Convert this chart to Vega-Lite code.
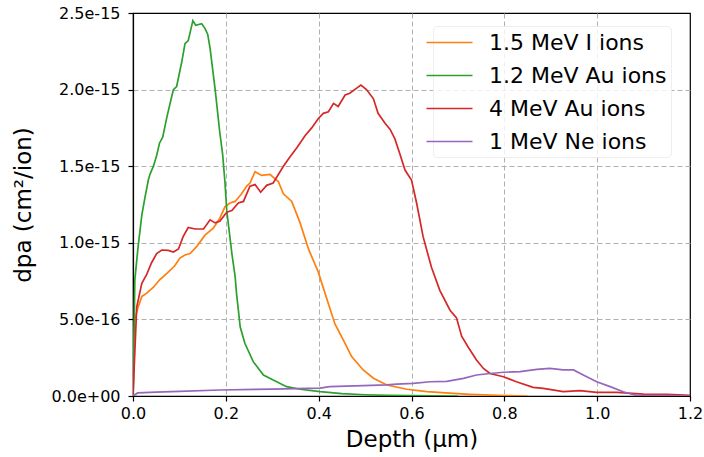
{
  "$schema": "https://vega.github.io/schema/vega-lite/v6.json",
  "width": 557,
  "height": 383,
  "autosize": {"type": "none"},
  "padding": {"left": 133, "top": 13, "right": 14, "bottom": 61},
  "background": "white",
  "config": {
    "font": "DejaVu Sans",
    "view": {"stroke": "black", "strokeWidth": 1.2},
    "axis": {
      "domainColor": "black", "domainWidth": 1.2,
      "tickColor": "black", "tickSize": 5, "tickWidth": 1.2,
      "labelFont": "DejaVu Sans", "labelFontSize": 16, "labelColor": "black",
      "titleFont": "DejaVu Sans", "titleFontSize": 23, "titleFontWeight": "normal", "titleColor": "black",
      "grid": true, "gridColor": "#b0b0b0", "gridDash": [5, 3], "gridWidth": 1
    }
  },
  "data": {"values": [
    {"ion":"1.5 MeV I ions","depth":0,"dpa":0},
    {"ion":"1.5 MeV I ions","depth":0.004,"dpa":0.50e-15},
    {"ion":"1.5 MeV I ions","depth":0.011,"dpa":0.58e-15},
    {"ion":"1.5 MeV I ions","depth":0.019,"dpa":0.65e-15},
    {"ion":"1.5 MeV I ions","depth":0.029,"dpa":0.67e-15},
    {"ion":"1.5 MeV I ions","depth":0.044,"dpa":0.71e-15},
    {"ion":"1.5 MeV I ions","depth":0.058,"dpa":0.76e-15},
    {"ion":"1.5 MeV I ions","depth":0.073,"dpa":0.80e-15},
    {"ion":"1.5 MeV I ions","depth":0.090,"dpa":0.85e-15},
    {"ion":"1.5 MeV I ions","depth":0.101,"dpa":0.90e-15},
    {"ion":"1.5 MeV I ions","depth":0.112,"dpa":0.92e-15},
    {"ion":"1.5 MeV I ions","depth":0.123,"dpa":0.93e-15},
    {"ion":"1.5 MeV I ions","depth":0.137,"dpa":0.975e-15},
    {"ion":"1.5 MeV I ions","depth":0.155,"dpa":1.05e-15},
    {"ion":"1.5 MeV I ions","depth":0.173,"dpa":1.095e-15},
    {"ion":"1.5 MeV I ions","depth":0.187,"dpa":1.16e-15},
    {"ion":"1.5 MeV I ions","depth":0.198,"dpa":1.235e-15},
    {"ion":"1.5 MeV I ions","depth":0.209,"dpa":1.26e-15},
    {"ion":"1.5 MeV I ions","depth":0.220,"dpa":1.27e-15},
    {"ion":"1.5 MeV I ions","depth":0.234,"dpa":1.32e-15},
    {"ion":"1.5 MeV I ions","depth":0.245,"dpa":1.37e-15},
    {"ion":"1.5 MeV I ions","depth":0.252,"dpa":1.39e-15},
    {"ion":"1.5 MeV I ions","depth":0.263,"dpa":1.464e-15},
    {"ion":"1.5 MeV I ions","depth":0.277,"dpa":1.44e-15},
    {"ion":"1.5 MeV I ions","depth":0.295,"dpa":1.447e-15},
    {"ion":"1.5 MeV I ions","depth":0.313,"dpa":1.40e-15},
    {"ion":"1.5 MeV I ions","depth":0.324,"dpa":1.32e-15},
    {"ion":"1.5 MeV I ions","depth":0.342,"dpa":1.27e-15},
    {"ion":"1.5 MeV I ions","depth":0.360,"dpa":1.13e-15},
    {"ion":"1.5 MeV I ions","depth":0.378,"dpa":0.96e-15},
    {"ion":"1.5 MeV I ions","depth":0.399,"dpa":0.81e-15},
    {"ion":"1.5 MeV I ions","depth":0.417,"dpa":0.64e-15},
    {"ion":"1.5 MeV I ions","depth":0.435,"dpa":0.47e-15},
    {"ion":"1.5 MeV I ions","depth":0.453,"dpa":0.366e-15},
    {"ion":"1.5 MeV I ions","depth":0.471,"dpa":0.257e-15},
    {"ion":"1.5 MeV I ions","depth":0.496,"dpa":0.17e-15},
    {"ion":"1.5 MeV I ions","depth":0.518,"dpa":0.116e-15},
    {"ion":"1.5 MeV I ions","depth":0.547,"dpa":0.072e-15},
    {"ion":"1.5 MeV I ions","depth":0.590,"dpa":0.044e-15},
    {"ion":"1.5 MeV I ions","depth":0.633,"dpa":0.028e-15},
    {"ion":"1.5 MeV I ions","depth":0.690,"dpa":0.017e-15},
    {"ion":"1.5 MeV I ions","depth":0.726,"dpa":0.011e-15},
    {"ion":"1.5 MeV I ions","depth":0.800,"dpa":0.003e-15},
    {"ion":"1.5 MeV I ions","depth":0.850,"dpa":0},
    {"ion":"1.2 MeV Au ions","depth":0,"dpa":0},
    {"ion":"1.2 MeV Au ions","depth":0.004,"dpa":0.76e-15},
    {"ion":"1.2 MeV Au ions","depth":0.011,"dpa":0.975e-15},
    {"ion":"1.2 MeV Au ions","depth":0.019,"dpa":1.18e-15},
    {"ion":"1.2 MeV Au ions","depth":0.026,"dpa":1.30e-15},
    {"ion":"1.2 MeV Au ions","depth":0.033,"dpa":1.41e-15},
    {"ion":"1.2 MeV Au ions","depth":0.037,"dpa":1.45e-15},
    {"ion":"1.2 MeV Au ions","depth":0.044,"dpa":1.50e-15},
    {"ion":"1.2 MeV Au ions","depth":0.051,"dpa":1.57e-15},
    {"ion":"1.2 MeV Au ions","depth":0.057,"dpa":1.65e-15},
    {"ion":"1.2 MeV Au ions","depth":0.064,"dpa":1.69e-15},
    {"ion":"1.2 MeV Au ions","depth":0.073,"dpa":1.82e-15},
    {"ion":"1.2 MeV Au ions","depth":0.083,"dpa":1.95e-15},
    {"ion":"1.2 MeV Au ions","depth":0.087,"dpa":2.00e-15},
    {"ion":"1.2 MeV Au ions","depth":0.094,"dpa":2.02e-15},
    {"ion":"1.2 MeV Au ions","depth":0.105,"dpa":2.18e-15},
    {"ion":"1.2 MeV Au ions","depth":0.112,"dpa":2.30e-15},
    {"ion":"1.2 MeV Au ions","depth":0.119,"dpa":2.32e-15},
    {"ion":"1.2 MeV Au ions","depth":0.129,"dpa":2.45e-15},
    {"ion":"1.2 MeV Au ions","depth":0.135,"dpa":2.42e-15},
    {"ion":"1.2 MeV Au ions","depth":0.148,"dpa":2.43e-15},
    {"ion":"1.2 MeV Au ions","depth":0.155,"dpa":2.40e-15},
    {"ion":"1.2 MeV Au ions","depth":0.161,"dpa":2.36e-15},
    {"ion":"1.2 MeV Au ions","depth":0.166,"dpa":2.27e-15},
    {"ion":"1.2 MeV Au ions","depth":0.177,"dpa":2.00e-15},
    {"ion":"1.2 MeV Au ions","depth":0.187,"dpa":1.72e-15},
    {"ion":"1.2 MeV Au ions","depth":0.193,"dpa":1.58e-15},
    {"ion":"1.2 MeV Au ions","depth":0.198,"dpa":1.40e-15},
    {"ion":"1.2 MeV Au ions","depth":0.202,"dpa":1.21e-15},
    {"ion":"1.2 MeV Au ions","depth":0.213,"dpa":0.93e-15},
    {"ion":"1.2 MeV Au ions","depth":0.220,"dpa":0.78e-15},
    {"ion":"1.2 MeV Au ions","depth":0.223,"dpa":0.67e-15},
    {"ion":"1.2 MeV Au ions","depth":0.231,"dpa":0.45e-15},
    {"ion":"1.2 MeV Au ions","depth":0.241,"dpa":0.344e-15},
    {"ion":"1.2 MeV Au ions","depth":0.259,"dpa":0.224e-15},
    {"ion":"1.2 MeV Au ions","depth":0.281,"dpa":0.137e-15},
    {"ion":"1.2 MeV Au ions","depth":0.302,"dpa":0.104e-15},
    {"ion":"1.2 MeV Au ions","depth":0.331,"dpa":0.061e-15},
    {"ion":"1.2 MeV Au ions","depth":0.360,"dpa":0.044e-15},
    {"ion":"1.2 MeV Au ions","depth":0.403,"dpa":0.028e-15},
    {"ion":"1.2 MeV Au ions","depth":0.450,"dpa":0.015e-15},
    {"ion":"1.2 MeV Au ions","depth":0.500,"dpa":0.008e-15},
    {"ion":"1.2 MeV Au ions","depth":0.550,"dpa":0.004e-15},
    {"ion":"1.2 MeV Au ions","depth":0.600,"dpa":0.002e-15},
    {"ion":"1.2 MeV Au ions","depth":0.700,"dpa":0},
    {"ion":"4 MeV Au ions","depth":0,"dpa":0},
    {"ion":"4 MeV Au ions","depth":0.008,"dpa":0.58e-15},
    {"ion":"4 MeV Au ions","depth":0.019,"dpa":0.735e-15},
    {"ion":"4 MeV Au ions","depth":0.029,"dpa":0.79e-15},
    {"ion":"4 MeV Au ions","depth":0.040,"dpa":0.87e-15},
    {"ion":"4 MeV Au ions","depth":0.051,"dpa":0.93e-15},
    {"ion":"4 MeV Au ions","depth":0.062,"dpa":0.953e-15},
    {"ion":"4 MeV Au ions","depth":0.076,"dpa":0.95e-15},
    {"ion":"4 MeV Au ions","depth":0.087,"dpa":0.94e-15},
    {"ion":"4 MeV Au ions","depth":0.098,"dpa":0.96e-15},
    {"ion":"4 MeV Au ions","depth":0.108,"dpa":1.04e-15},
    {"ion":"4 MeV Au ions","depth":0.119,"dpa":1.10e-15},
    {"ion":"4 MeV Au ions","depth":0.134,"dpa":1.09e-15},
    {"ion":"4 MeV Au ions","depth":0.152,"dpa":1.09e-15},
    {"ion":"4 MeV Au ions","depth":0.166,"dpa":1.15e-15},
    {"ion":"4 MeV Au ions","depth":0.177,"dpa":1.13e-15},
    {"ion":"4 MeV Au ions","depth":0.187,"dpa":1.14e-15},
    {"ion":"4 MeV Au ions","depth":0.202,"dpa":1.20e-15},
    {"ion":"4 MeV Au ions","depth":0.213,"dpa":1.21e-15},
    {"ion":"4 MeV Au ions","depth":0.227,"dpa":1.26e-15},
    {"ion":"4 MeV Au ions","depth":0.238,"dpa":1.27e-15},
    {"ion":"4 MeV Au ions","depth":0.252,"dpa":1.37e-15},
    {"ion":"4 MeV Au ions","depth":0.263,"dpa":1.38e-15},
    {"ion":"4 MeV Au ions","depth":0.275,"dpa":1.33e-15},
    {"ion":"4 MeV Au ions","depth":0.288,"dpa":1.375e-15},
    {"ion":"4 MeV Au ions","depth":0.302,"dpa":1.39e-15},
    {"ion":"4 MeV Au ions","depth":0.324,"dpa":1.50e-15},
    {"ion":"4 MeV Au ions","depth":0.338,"dpa":1.56e-15},
    {"ion":"4 MeV Au ions","depth":0.353,"dpa":1.62e-15},
    {"ion":"4 MeV Au ions","depth":0.371,"dpa":1.70e-15},
    {"ion":"4 MeV Au ions","depth":0.385,"dpa":1.75e-15},
    {"ion":"4 MeV Au ions","depth":0.399,"dpa":1.81e-15},
    {"ion":"4 MeV Au ions","depth":0.410,"dpa":1.845e-15},
    {"ion":"4 MeV Au ions","depth":0.421,"dpa":1.855e-15},
    {"ion":"4 MeV Au ions","depth":0.432,"dpa":1.91e-15},
    {"ion":"4 MeV Au ions","depth":0.442,"dpa":1.89e-15},
    {"ion":"4 MeV Au ions","depth":0.457,"dpa":1.965e-15},
    {"ion":"4 MeV Au ions","depth":0.467,"dpa":1.976e-15},
    {"ion":"4 MeV Au ions","depth":0.482,"dpa":2.01e-15},
    {"ion":"4 MeV Au ions","depth":0.491,"dpa":2.03e-15},
    {"ion":"4 MeV Au ions","depth":0.503,"dpa":2.00e-15},
    {"ion":"4 MeV Au ions","depth":0.518,"dpa":1.94e-15},
    {"ion":"4 MeV Au ions","depth":0.528,"dpa":1.845e-15},
    {"ion":"4 MeV Au ions","depth":0.543,"dpa":1.78e-15},
    {"ion":"4 MeV Au ions","depth":0.554,"dpa":1.74e-15},
    {"ion":"4 MeV Au ions","depth":0.564,"dpa":1.68e-15},
    {"ion":"4 MeV Au ions","depth":0.575,"dpa":1.58e-15},
    {"ion":"4 MeV Au ions","depth":0.586,"dpa":1.475e-15},
    {"ion":"4 MeV Au ions","depth":0.600,"dpa":1.41e-15},
    {"ion":"4 MeV Au ions","depth":0.611,"dpa":1.26e-15},
    {"ion":"4 MeV Au ions","depth":0.625,"dpa":1.04e-15},
    {"ion":"4 MeV Au ions","depth":0.643,"dpa":0.84e-15},
    {"ion":"4 MeV Au ions","depth":0.661,"dpa":0.69e-15},
    {"ion":"4 MeV Au ions","depth":0.683,"dpa":0.56e-15},
    {"ion":"4 MeV Au ions","depth":0.697,"dpa":0.51e-15},
    {"ion":"4 MeV Au ions","depth":0.708,"dpa":0.39e-15},
    {"ion":"4 MeV Au ions","depth":0.722,"dpa":0.32e-15},
    {"ion":"4 MeV Au ions","depth":0.740,"dpa":0.235e-15},
    {"ion":"4 MeV Au ions","depth":0.755,"dpa":0.18e-15},
    {"ion":"4 MeV Au ions","depth":0.769,"dpa":0.147e-15},
    {"ion":"4 MeV Au ions","depth":0.798,"dpa":0.126e-15},
    {"ion":"4 MeV Au ions","depth":0.826,"dpa":0.093e-15},
    {"ion":"4 MeV Au ions","depth":0.862,"dpa":0.056e-15},
    {"ion":"4 MeV Au ions","depth":0.884,"dpa":0.050e-15},
    {"ion":"4 MeV Au ions","depth":0.927,"dpa":0.028e-15},
    {"ion":"4 MeV Au ions","depth":0.963,"dpa":0.035e-15},
    {"ion":"4 MeV Au ions","depth":0.999,"dpa":0.024e-15},
    {"ion":"4 MeV Au ions","depth":1.042,"dpa":0.024e-15},
    {"ion":"4 MeV Au ions","depth":1.100,"dpa":0.012e-15},
    {"ion":"4 MeV Au ions","depth":1.150,"dpa":0.010e-15},
    {"ion":"4 MeV Au ions","depth":1.200,"dpa":0.005e-15},
    {"ion":"1 MeV Ne ions","depth":0,"dpa":0},
    {"ion":"1 MeV Ne ions","depth":0.010,"dpa":0.020e-15},
    {"ion":"1 MeV Ne ions","depth":0.050,"dpa":0.025e-15},
    {"ion":"1 MeV Ne ions","depth":0.100,"dpa":0.030e-15},
    {"ion":"1 MeV Ne ions","depth":0.187,"dpa":0.039e-15},
    {"ion":"1 MeV Ne ions","depth":0.300,"dpa":0.045e-15},
    {"ion":"1 MeV Ne ions","depth":0.403,"dpa":0.052e-15},
    {"ion":"1 MeV Ne ions","depth":0.424,"dpa":0.061e-15},
    {"ion":"1 MeV Ne ions","depth":0.496,"dpa":0.068e-15},
    {"ion":"1 MeV Ne ions","depth":0.547,"dpa":0.072e-15},
    {"ion":"1 MeV Ne ions","depth":0.568,"dpa":0.078e-15},
    {"ion":"1 MeV Ne ions","depth":0.604,"dpa":0.083e-15},
    {"ion":"1 MeV Ne ions","depth":0.640,"dpa":0.093e-15},
    {"ion":"1 MeV Ne ions","depth":0.676,"dpa":0.095e-15},
    {"ion":"1 MeV Ne ions","depth":0.712,"dpa":0.115e-15},
    {"ion":"1 MeV Ne ions","depth":0.740,"dpa":0.137e-15},
    {"ion":"1 MeV Ne ions","depth":0.769,"dpa":0.147e-15},
    {"ion":"1 MeV Ne ions","depth":0.798,"dpa":0.155e-15},
    {"ion":"1 MeV Ne ions","depth":0.834,"dpa":0.159e-15},
    {"ion":"1 MeV Ne ions","depth":0.870,"dpa":0.174e-15},
    {"ion":"1 MeV Ne ions","depth":0.898,"dpa":0.180e-15},
    {"ion":"1 MeV Ne ions","depth":0.927,"dpa":0.170e-15},
    {"ion":"1 MeV Ne ions","depth":0.949,"dpa":0.170e-15},
    {"ion":"1 MeV Ne ions","depth":0.970,"dpa":0.137e-15},
    {"ion":"1 MeV Ne ions","depth":0.999,"dpa":0.093e-15},
    {"ion":"1 MeV Ne ions","depth":1.028,"dpa":0.061e-15},
    {"ion":"1 MeV Ne ions","depth":1.056,"dpa":0.028e-15},
    {"ion":"1 MeV Ne ions","depth":1.071,"dpa":0.015e-15},
    {"ion":"1 MeV Ne ions","depth":1.085,"dpa":0.004e-15},
    {"ion":"1 MeV Ne ions","depth":1.150,"dpa":0.002e-15},
    {"ion":"1 MeV Ne ions","depth":1.200,"dpa":0}
  ]},
  "mark": {"type": "line", "strokeWidth": 1.7, "clip": true},
  "encoding": {
    "x": {
      "field": "depth", "type": "quantitative",
      "scale": {"domain": [0, 1.2], "nice": false, "zero": false},
      "axis": {"values": [0, 0.2, 0.4, 0.6, 0.8, 1.0, 1.2], "format": ".1f", "labelPadding": 4,
               "title": "Depth (μm)", "titlePadding": 7, "labelFlush": false,
               "gridOpacity": {"condition": {"test": "datum.value <= 0 || datum.value >= 1.19", "value": 0}, "value": 1}}
    },
    "y": {
      "field": "dpa", "type": "quantitative",
      "scale": {"domain": [0, 2.5e-15], "nice": false},
      "axis": {"values": [0, 5e-16, 1e-15, 1.5e-15, 2e-15, 2.5e-15],
               "labelExpr": "datum.value == 0 ? '0.0e+00' : format(datum.value, '.1e')",
               "labelPadding": 8, "title": "dpa (cm²/ion)", "titlePadding": 15, "labelFlush": false,
               "gridOpacity": {"condition": {"test": "datum.value <= 0 || datum.value >= 2.4e-15", "value": 0}, "value": 1}}
    },
    "color": {
      "field": "ion", "type": "nominal",
      "scale": {"domain": ["1.5 MeV I ions", "1.2 MeV Au ions", "4 MeV Au ions", "1 MeV Ne ions"],
                "range": ["#ff7f0e", "#2ca02c", "#d62728", "#9467bd"]},
      "legend": {
        "title": null, "orient": "none", "legendX": 300, "legendY": 13,
        "symbolType": "M-2,0H2", "symbolSize": 529, "symbolStrokeWidth": 1.7,
        "labelFontSize": 22, "labelFont": "DejaVu Sans", "labelColor": "black", "labelLimit": 0,
        "labelOffset": 27, "rowPadding": 9, "padding": 4,
        "fillColor": "rgba(255,255,255,0.8)", "strokeColor": "#eeeeee", "cornerRadius": 4
      }
    },
    "order": {"field": "depth", "type": "quantitative"}
  }
}
